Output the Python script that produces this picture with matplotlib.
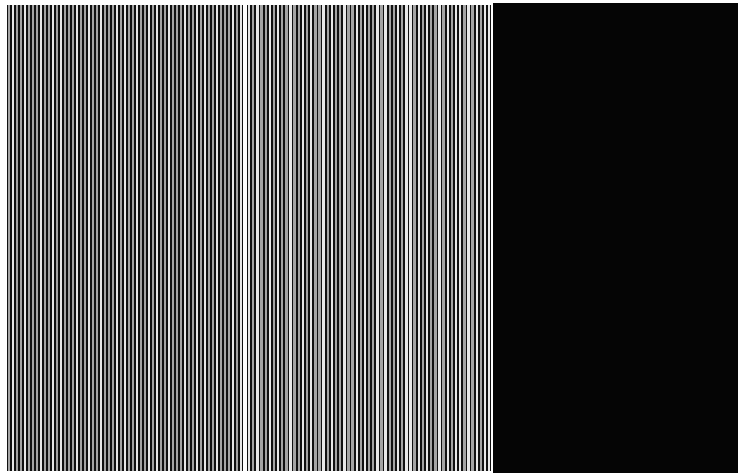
import matplotlib
matplotlib.use("Agg")
import matplotlib.pyplot as plt

# stripe shades read across each striped panel (g = grey stripe, w = white stripe)
left_panel = list("gwggwgggwggwgwgggwggwggwgggwgwggwggwgwggwgggwggwgwggwgggwgw")
mid_panel = list("wgwggwgwggwggwgwggwgwggwggwgwggwgwggwgwwgwgwggwgwgwwgwgwgww")
shade = {"g": "#a4a4a4", "w": "#e8e8e8"}

fig = plt.figure(figsize=(7.42, 4.75), dpi=100)
fig.patch.set_facecolor("white")

panels = [
    (left_panel, [0.0095, 0.008, 0.318, 0.981]),
    (mid_panel, [0.333, 0.008, 0.329, 0.981]),
]
for stripes, rect in panels:
    ax = fig.add_axes(rect)
    ax.set_facecolor("#111111")
    x = list(range(len(stripes)))
    ax.bar(x, [1] * len(stripes), width=0.58,
           color=[shade[s] for s in stripes], linewidth=0)
    ax.set_xlim(-0.5, len(stripes) - 0.5)
    ax.set_ylim(0, 1)
    ax.set_xticks([])
    ax.set_yticks([])
    for sp in ax.spines.values():
        sp.set_visible(False)

# solid black block on the right
ax3 = fig.add_axes([0.664, 0.004, 0.33, 0.99])
ax3.set_facecolor("#050505")
ax3.set_xticks([])
ax3.set_yticks([])
for sp in ax3.spines.values():
    sp.set_visible(False)

fig.savefig("out.png", dpi=100)
